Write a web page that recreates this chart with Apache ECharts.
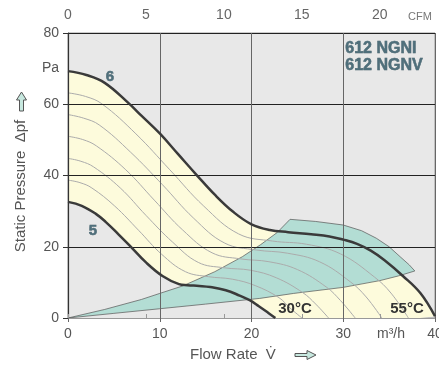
<!DOCTYPE html>
<html>
<head>
<meta charset="utf-8">
<script src="https://cdn.jsdelivr.net/npm/echarts@6/dist/echarts.min.js"></script>
<style>
html,body{margin:0;padding:0;background:#fff}
#chart{width:439px;height:365px}
</style>
</head>
<body>
<div id="chart"></div>
<script>
// Axis ticks
const flowTicks = [0, 10, 20, 30, 40];          // m³/h
const cfmTicks = [0, 5, 10, 15, 20];            // CFM
const pressureTicks = [0, 20, 40, 60, 80];      // Pa
const M3H_PER_CFM = 1.699;

// Fan curve at speed step 6 (upper limit) – [flow m³/h, pressure Pa]
const curve6 = [[0,69.3],[2,68.2],[4,66],[6.6,60.3],[8,56.8],[10,51.8],[12,46],[14,40.2],[16,34.6],[18,29.8],[20,26.3],[22,24.7],[24,24.1],[26.5,23.5],[28.5,22.9],[30,22],[31.5,20.8],[33,18.9],[34.5,16.2],[36.5,11.8],[38.4,7],[40,0.5]];

// Fan curve at speed step 5 (lower limit)
const curve5 = [[0,32.6],[1.5,31.5],[3,29.3],[4.1,27],[5.5,23.5],[6.7,20.4],[8.5,15.6],[10.3,11.8],[12.1,9.5],[13,9.2],[14.3,9],[15.5,8.7],[17.2,7.8],[18.7,6.3],[19.8,5],[20.8,3.3],[21.8,1.5],[22.6,0]];

// Intermediate speed curves between steps 5 and 6
const mid1 = [[0,63.2],[1.9,62.2],[3.7,60.1],[7.4,51.7],[11.1,41.6],[14.8,31.4],[18.6,23.6],[22.3,21.6],[26,20.7],[29.7,18],[33.4,11.5],[35.2,7],[37.1,0]];
const mid2 = [[0,57.1],[1.7,56.1],[3.4,54.2],[6.8,46.6],[10.3,37.4],[13.7,28],[17.1,21],[20.5,19.1],[23.9,18.2],[27.4,15.8],[30.8,10.1],[32.5,5.9],[34.2,0]];
const mid3 = [[0,51],[1.6,50.1],[3.1,48.3],[6.3,41.6],[9.4,33.1],[12.5,24.7],[15.7,18.3],[18.8,16.6],[21.9,15.8],[25,13.6],[28.2,8.6],[29.7,4.9],[31.3,0]];
const mid4 = [[0,44.8],[1.4,44],[2.8,42.4],[5.7,36.5],[8.5,28.8],[11.4,21.3],[14.2,15.6],[17,14.1],[19.9,13.4],[22.7,11.3],[25.6,7.1],[27,3.9],[28.4,0]];
const mid5 = [[0,38.7],[1.3,38],[2.6,36.5],[5.1,31.4],[7.7,24.6],[10.2,17.9],[12.8,13],[15.3,11.6],[17.9,10.9],[20.4,9.1],[23,5.7],[24.2,2.8],[25.5,0]];
const midCurves = [mid1, mid2, mid3, mid4, mid5];

// Operating range for air temperatures 30 °C … 55 °C
const tempRange = [[0,0],[4,2.4],[8,5.2],[10,6.9],[12.5,9],[16,13],[19,17.2],[21,20.6],[22.8,24],[24.2,27.7],[27,27.1],[30,26.1],[32,24.5],[33.6,22.4],[35,20],[36.2,17.2],[37.2,14.9],[37.8,13.2],[36,11.8],[34,10.5],[30,8.6],[24.6,6.9],[20.9,5.5],[15,3.9],[10,2.6],[5,1.3],[0,0]];

const FONT = '"Liberation Sans", Arial, sans-serif';
const BG = '#e8e8e8';
const YELLOW = '#fdfbdc';
const TEAL = '#b3ddd4';
const LABEL = '#555';
const MODEL = '#4f6f7b';
const SMOOTH = 0.4;

const chart = echarts.init(document.getElementById('chart'), null, {renderer: 'canvas'});

const series = [
  { // band between the speed steps
    type: 'line', data: curve6, smooth: SMOOTH, symbol: 'none', silent: true,
    lineStyle: {width: 0}, areaStyle: {color: YELLOW, opacity: 1}, z: 1
  },
  {
    type: 'line', data: curve5, smooth: SMOOTH, symbol: 'none', silent: true,
    lineStyle: {width: 0}, areaStyle: {color: BG, opacity: 1}, z: 2
  },
  {
    type: 'custom', data: [[0, 0]], silent: true, z: 3, clip: true,
    renderItem: (params, api) => ({
      type: 'polygon',
      shape: {points: tempRange.map(p => api.coord(p))},
      style: {fill: TEAL, stroke: '#555', lineWidth: 0.7}
    })
  }
];
midCurves.forEach(c => series.push({
  type: 'line', data: c, smooth: SMOOTH, symbol: 'none', silent: true,
  lineStyle: {color: '#ababab', width: 1}, z: 4
}));
[curve6, curve5].forEach(c => series.push({
  type: 'line', data: c, smooth: SMOOTH, symbol: 'none', silent: true,
  lineStyle: {color: '#3a3a3a', width: 2.5}, z: 20
}));

chart.setOption({
  animation: false,
  backgroundColor: '#fff',
  grid: {left: 68, right: 4, top: 33, bottom: 47, show: true, backgroundColor: BG, borderColor: '#999', borderWidth: 1,
    outerBoundsMode: 'none', containLabel: false},
  xAxis: [
    {
      type: 'value', position: 'bottom', min: flowTicks[0], max: flowTicks[flowTicks.length - 1], interval: 10, z: 10,
      axisLine: {show: true, onZero: false, lineStyle: {color: '#333', width: 1.2}},
      axisTick: {show: true, length: 4, lineStyle: {color: '#666'}},
      axisLabel: {color: LABEL, fontSize: 14, fontFamily: FONT, margin: 9, customValues: flowTicks},
      splitLine: {show: true, lineStyle: {color: '#666', width: 1}}
    },
    {
      type: 'value', position: 'top', min: 0, max: flowTicks[flowTicks.length - 1] / M3H_PER_CFM, offset: 7, z: 10,
      axisLine: {show: true, lineStyle: {color: '#999', width: 1}},
      axisTick: {show: true, length: 4, lineStyle: {color: '#999'}, customValues: cfmTicks},
      axisLabel: {color: '#666', fontSize: 14, fontFamily: FONT, margin: 4, customValues: cfmTicks},
      splitLine: {show: false}
    }
  ],
  yAxis: {
    type: 'value', min: pressureTicks[0], max: pressureTicks[pressureTicks.length - 1], interval: 20, z: 10,
    axisLine: {show: true, onZero: false, lineStyle: {color: '#333', width: 1.2}},
    axisTick: {show: true, length: 5, lineStyle: {color: '#333'}},
    axisLabel: {color: LABEL, fontSize: 14, fontFamily: FONT, margin: 9},
    splitLine: {show: true, lineStyle: {color: '#222', width: 1}}
  },
  series: series,
  graphic: [
    {type: 'text', left: 42, top: 61, style: {text: 'Pa', fill: LABEL, font: '14px ' + FONT}},
    {type: 'text', left: 408, top: 11, style: {text: 'CFM', fill: '#777', font: '11px ' + FONT}},
    {type: 'text', left: 377, top: 327, style: {text: 'm³/h', fill: LABEL, font: '14px ' + FONT}},
    {type: 'text', left: 190, top: 347, style: {text: 'Flow Rate  V̇', fill: LABEL, font: '15px ' + FONT}},
    {type: 'polygon', z: 20, shape: {points: [[295,353.5],[307,353.5],[307,350.5],[316,355],[307,359.5],[307,356.5],[295,356.5]]},
      style: {fill: '#c7e8df', stroke: '#555', lineWidth: 1}},
    {type: 'text', x: 21, y: 186, rotation: Math.PI / 2,
      style: {text: 'Static Pressure  Δpf', fill: LABEL, font: '15px ' + FONT, align: 'center', verticalAlign: 'middle'}},
    {type: 'polygon', z: 20, shape: {points: [[19.5,111],[19.5,100],[16.5,100],[21.5,92],[26.5,100],[23.5,100],[23.5,111]]},
      style: {fill: '#c7e8df', stroke: '#555', lineWidth: 1}},
    {type: 'text', left: 345, top: 40, z: 30, style: {text: '612 NGNI', fill: MODEL, stroke: '#3d5863', lineWidth: 0.5, font: 'bold 16px ' + FONT}},
    {type: 'text', left: 345, top: 57, z: 30, style: {text: '612 NGNV', fill: MODEL, stroke: '#3d5863', lineWidth: 0.5, font: 'bold 16px ' + FONT}},
    {type: 'text', x: 110, y: 77, z: 30, style: {text: '6', fill: MODEL, stroke: '#3d5863', lineWidth: 0.5, font: 'bold 15px ' + FONT, align: 'center', verticalAlign: 'middle'}},
    {type: 'text', x: 93, y: 231, z: 30, style: {text: '5', fill: MODEL, stroke: '#3d5863', lineWidth: 0.5, font: 'bold 15px ' + FONT, align: 'center', verticalAlign: 'middle'}},
    {type: 'text', x: 295, y: 309, z: 30, style: {text: '30°C', fill: '#333', font: 'bold 15px ' + FONT, align: 'center', verticalAlign: 'middle'}},
    {type: 'text', x: 407, y: 309, z: 30, style: {text: '55°C', fill: '#333', font: 'bold 15px ' + FONT, align: 'center', verticalAlign: 'middle'}}
  ]
});
</script>
</body>
</html>
